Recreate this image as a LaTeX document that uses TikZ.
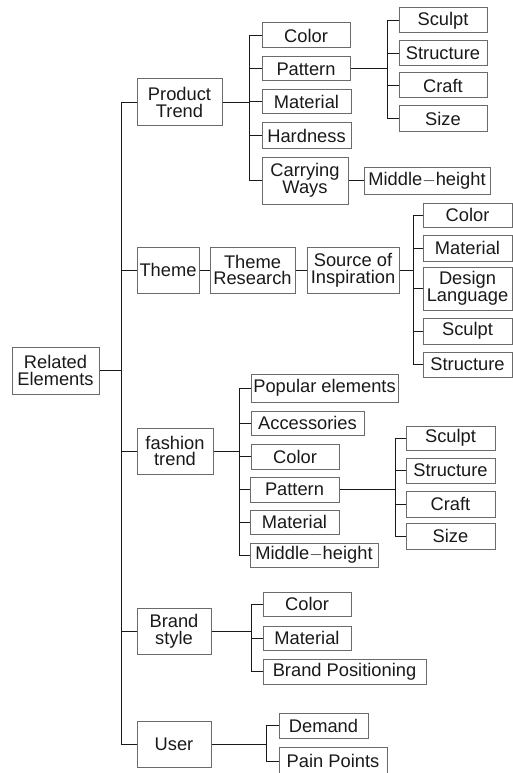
\documentclass[tikz,border=0pt]{standalone}
\usepackage{fontspec}
\setmainfont{Liberation Sans}
\usepackage{tikz}
\definecolor{boxgray}{rgb}{0.42,0.42,0.42}
\definecolor{inkgray}{rgb}{0.10,0.10,0.10}

\begin{document}
\begin{tikzpicture}[x=1pt, y=-1pt, line width=1pt, color=inkgray,
	box/.style={draw=boxgray, rectangle, inner sep=0pt, align=center,
		font=\fontsize{18.3}{16.8}\selectfont}]
	\useasboundingbox (0,0) rectangle (513,773);

	\node[box, minimum width=87, minimum height=47] (rel) at (55.5,370.5) {Related\\Elements};
	\coordinate (trunk) at (121,0);

	\node[box, minimum width=85, minimum height=47] (prod) at (179.5,102.5) {Product\\Trend};
	\node[box, minimum width=62, minimum height=46] (theme) at (168,270) {Theme};
	\node[box, minimum width=76, minimum height=46] (fash) at (175,451) {fashion\\trend};
	\node[box, minimum width=74, minimum height=46] (brand) at (174,631) {Brand\\style};
	\node[box, minimum width=74, minimum height=46] (user) at (174,744) {User};

	\draw (rel.east) -- (rel.east -| trunk);
	\draw (prod.west -| trunk) -- (user.west -| trunk);
	\draw (prod.west) -- (prod.west -| trunk);
	\draw (theme.west) -- (theme.west -| trunk);
	\draw (fash.west) -- (fash.west -| trunk);
	\draw (brand.west) -- (brand.west -| trunk);
	\draw (user.west) -- (user.west -| trunk);

	% Product Trend
	\coordinate (pbus) at (249,0);
	\node[box, minimum width=88, minimum height=25] (pcol) at (306,35.5) {Color};
	\node[box, minimum width=88, minimum height=24] (ppat) at (306,69) {Pattern};
	\node[box, minimum width=89, minimum height=24] (pmat) at (306.5,102) {Material};
	\node[box, minimum width=89, minimum height=25] (phard) at (306.5,135.5) {Hardness};
	\node[box, minimum width=86, minimum height=47] (pcarry) at (305,180.5) {Carrying\\Ways};
	\node[box, minimum width=126, minimum height=27] (pmid) at (427,180.5) {Middle$-$height};

	\draw (prod.east) -- (prod.east -| pbus);
	\draw (pcol.west -| pbus) -- (pcarry.west -| pbus);
	\draw (pcol.west) -- (pcol.west -| pbus);
	\draw (ppat.west) -- (ppat.west -| pbus);
	\draw (pmat.west) -- (pmat.west -| pbus);
	\draw (phard.west) -- (phard.west -| pbus);
	\draw (pcarry.west) -- (pcarry.west -| pbus);
	\draw (pcarry.east) -- (pmid.west);

	\coordinate (ppbus) at (387,0);
	\node[box, minimum width=88, minimum height=25] (ppsc) at (443,20.5) {Sculpt};
	\node[box, minimum width=88, minimum height=25] (ppst) at (443,53.5) {Structure};
	\node[box, minimum width=88, minimum height=25] (ppcr) at (443,85.5) {Craft};
	\node[box, minimum width=88, minimum height=25] (ppsz) at (443,118.5) {Size};

	\draw (ppat.east) -- (ppat.east -| ppbus);
	\draw (ppsc.west -| ppbus) -- (ppsz.west -| ppbus);
	\draw (ppsc.west) -- (ppsc.west -| ppbus);
	\draw (ppst.west) -- (ppst.west -| ppbus);
	\draw (ppcr.west) -- (ppcr.west -| ppbus);
	\draw (ppsz.west) -- (ppsz.west -| ppbus);

	% Theme
	\node[box, minimum width=85, minimum height=46] (tres) at (252.5,270) {Theme\\Research};
	\node[box, minimum width=92, minimum height=46] (tsrc) at (353,270) {Source of\\Inspiration};
	\draw (theme.east) -- (tres.west);
	\draw (tres.east) -- (tsrc.west);

	\coordinate (tbus) at (413,0);
	\node[box, minimum width=89, minimum height=24] (tcol) at (467.5,215) {Color};
	\node[box, minimum width=89, minimum height=26] (tmat) at (467.5,248) {Material};
	\node[box, minimum width=89, minimum height=43] (tdes) at (467.5,288.5) {Design\\Language};
	\node[box, minimum width=89, minimum height=26] (tsc) at (467.5,331) {Sculpt};
	\node[box, minimum width=89, minimum height=25] (tst) at (467.5,364.5) {Structure};

	\draw (tsrc.east) -- (tsrc.east -| tbus);
	\draw (tcol.west -| tbus) -- (tst.west -| tbus);
	\draw (tcol.west) -- (tcol.west -| tbus);
	\draw (tmat.west) -- (tmat.west -| tbus);
	\draw (tdes.west) -- (tdes.west -| tbus);
	\draw (tsc.west) -- (tsc.west -| tbus);
	\draw (tst.west) -- (tst.west -| tbus);

	% fashion trend
	\coordinate (fbus) at (239,0);
	\node[box, minimum width=147, minimum height=28] (fpop) at (324.5,388) {Popular elements};
	\node[box, minimum width=113, minimum height=24] (facc) at (307.5,423) {Accessories};
	\node[box, minimum width=88, minimum height=25] (fcol) at (295,456.5) {Color};
	\node[box, minimum width=89, minimum height=25] (fpat) at (294.5,489.5) {Pattern};
	\node[box, minimum width=89, minimum height=24] (fmat) at (294.5,522) {Material};
	\node[box, minimum width=128, minimum height=24] (fmid) at (314,555) {Middle$-$height};

	\draw (fash.east) -- (fash.east -| fbus);
	\draw (fpop.west -| fbus) -- (fmid.west -| fbus);
	\draw (fpop.west) -- (fpop.west -| fbus);
	\draw (facc.west) -- (facc.west -| fbus);
	\draw (fcol.west) -- (fcol.west -| fbus);
	\draw (fpat.west) -- (fpat.west -| fbus);
	\draw (fmat.west) -- (fmat.west -| fbus);
	\draw (fmid.west) -- (fmid.west -| fbus);

	\coordinate (fpbus) at (395,0);
	\node[box, minimum width=89, minimum height=24] (fpsc) at (450.5,438) {Sculpt};
	\node[box, minimum width=89, minimum height=25] (fpst) at (450.5,470.5) {Structure};
	\node[box, minimum width=89, minimum height=26] (fpcr) at (450.5,504) {Craft};
	\node[box, minimum width=89, minimum height=26] (fpsz) at (450.5,536) {Size};

	\draw (fpat.east) -- (fpat.east -| fpbus);
	\draw (fpsc.west -| fpbus) -- (fpsz.west -| fpbus);
	\draw (fpsc.west) -- (fpsc.west -| fpbus);
	\draw (fpst.west) -- (fpst.west -| fpbus);
	\draw (fpcr.west) -- (fpcr.west -| fpbus);
	\draw (fpsz.west) -- (fpsz.west -| fpbus);

	% Brand style
	\coordinate (bbus) at (251,0);
	\node[box, minimum width=88, minimum height=24] (bcol) at (307,604) {Color};
	\node[box, minimum width=88, minimum height=24] (bmat) at (307,638) {Material};
	\node[box, minimum width=163, minimum height=25] (bpos) at (344.5,671.5) {Brand Positioning};

	\draw (brand.east) -- (brand.east -| bbus);
	\draw (bcol.west -| bbus) -- (bpos.west -| bbus);
	\draw (bcol.west) -- (bcol.west -| bbus);
	\draw (bmat.west) -- (bmat.west -| bbus);
	\draw (bpos.west) -- (bpos.west -| bbus);

	% User
	\coordinate (ubus) at (266,0);
	\node[box, minimum width=89, minimum height=25] (udem) at (323.5,725.5) {Demand};
	\node[box, minimum width=108, minimum height=28] (upain) at (333,761) {Pain Points};

	\draw (user.east) -- (user.east -| ubus);
	\draw (udem.west -| ubus) -- (upain.west -| ubus);
	\draw (udem.west) -- (udem.west -| ubus);
	\draw (upain.west) -- (upain.west -| ubus);
\end{tikzpicture}
\end{document}
